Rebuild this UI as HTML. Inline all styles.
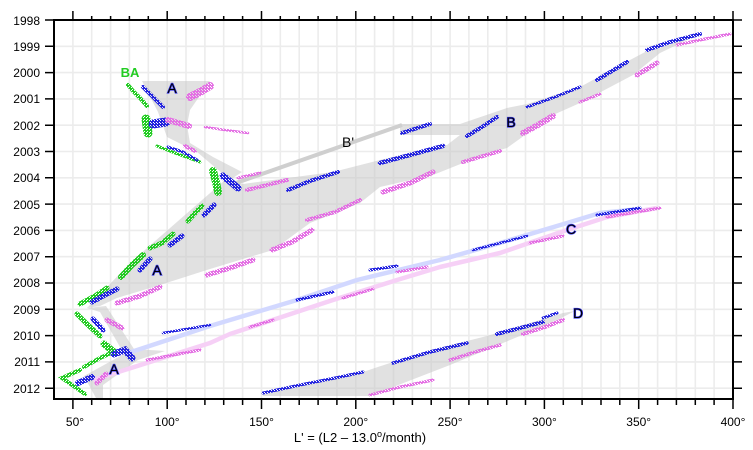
<!DOCTYPE html>
<html><head><meta charset="utf-8"><style>
html,body{margin:0;padding:0;background:#fff;}
svg{display:block;font-family:"Liberation Sans",sans-serif;}
</style></head><body>
<svg width="753" height="450" viewBox="0 0 753 450" xmlns="http://www.w3.org/2000/svg">
<defs>
<pattern id="pb" width="3" height="3" patternUnits="userSpaceOnUse"><g fill="#2424e0"><rect x="0" y="0" width="1" height="1"/><rect x="2" y="0" width="1" height="1"/><rect x="0" y="1" width="3" height="1"/><rect x="1" y="2" width="2" height="1"/></g></pattern>
<pattern id="pp" width="3" height="3" patternUnits="userSpaceOnUse"><g fill="#e470e4"><rect x="0" y="0" width="1" height="1"/><rect x="2" y="0" width="1" height="1"/><rect x="0" y="1" width="3" height="1"/><rect x="1" y="2" width="2" height="1"/></g></pattern>
<pattern id="pg" width="3" height="3" patternUnits="userSpaceOnUse"><g fill="#22cc22"><rect x="0" y="0" width="2" height="1"/><rect x="0" y="1" width="3" height="1"/><rect x="1" y="2" width="2" height="1"/></g></pattern>
</defs>
<rect width="753" height="450" fill="#fff"/>
<!-- grid -->
<g stroke="#ececec" stroke-width="1.6" fill="none">
<path d="M72.9,20V399M91.7,20V399M110.6,20V399M129.4,20V399M148.3,20V399M167.2,20V399M186,20V399M204.9,20V399M223.7,20V399M242.6,20V399M261.5,20V399M280.3,20V399M299.2,20V399M318.1,20V399M336.9,20V399M355.8,20V399M374.6,20V399M393.5,20V399M412.4,20V399M431.2,20V399M450.1,20V399M468.9,20V399M487.8,20V399M506.7,20V399M525.5,20V399M544.4,20V399M563.3,20V399M582.1,20V399M601,20V399M619.8,20V399M638.7,20V399M657.6,20V399M676.4,20V399M695.3,20V399M714.1,20V399"/>
<path d="M54,46.3H733M54,72.6H733M54,98.9H733M54,125.2H733M54,151.5H733M54,177.8H733M54,204.1H733M54,230.4H733M54,256.7H733M54,283H733M54,309.3H733M54,335.6H733M54,361.9H733M54,388.2H733"/>
</g>
<!-- grey bands -->
<g fill="#c4c4c4" fill-opacity="0.5" stroke="none">
<polygon points="142,81 210,81 190,110 187,125 190,143 213,157 242,172 230,180 197,152 167,137 158,112"/>
<polygon points="225,180 243,184 333,172 380,160 447,145 460,135 400,135 400,124 460,124 507,108 527,104 580,87 630,60 647,51 660,48 700,34 687,40 660,53 633,75 580,103 553,115 507,148 500,150 463,163 433,175 380,187 360,203 310,223 273,250 210,269 160,285 117,298 100,306 87,308 130,263"/>
<polygon points="87,308 106,306 134,349 165,351 138,360 103,385 103,398 96,398 84,376 124,354 100,312"/>
<polygon points="263,394 297,387 363,372 393,362 463,342 487,336 563,313 575,311 557,320 527,333 450,365 370,396 263,396"/>
</g>
<!-- B' line -->
<path d="M236,183 L402,125" stroke="#cfcfcf" stroke-width="4" fill="none"/>
<!-- C lines -->
<path d="M125,354 L210,326 L230,320 L297,300 L357,280 L440,260 L500,243 L567,223 L600,213 L640,209" stroke="#d2d8ff" stroke-width="4.5" fill="none" stroke-linejoin="round"/>
<path d="M93,380 L210,343 L230,334 L333,300 L397,280 L440,267 L500,253 L567,230 L607,217 L657,208" stroke="#f6d0f6" stroke-width="4.5" fill="none" stroke-linejoin="round"/>

<!-- green clusters -->
<g stroke="url(#pg)" fill="none" stroke-linecap="round">
<path d="M128,85 L134,92 L140,98 L147,106" stroke-width="4"/>
<path d="M146,119 L148,133" stroke-width="9"/>
<path d="M157,146 L175,153 L200,162" stroke-width="3"/>
<path d="M213,171 L216,182 L218,192" stroke-width="8"/>
<path d="M188,221 L196,212 L202,206" stroke-width="5"/>
<path d="M150,248 L162,243 L173,234" stroke-width="5"/>
<path d="M121,277 L132,265 L143,255" stroke-width="6"/>
<path d="M80,304 L95,296 L107,288" stroke-width="5"/>
<path d="M77,314 L88,325 L100,336" stroke-width="5"/>
<path d="M84,367 L100,358 L113,352" stroke-width="4"/>
<path d="M104,344 L114,352" stroke-width="7"/>
<path d="M80,370 L62,378 L85,394" stroke-width="4"/>
</g>
<!-- blue clusters -->
<g stroke="url(#pb)" fill="none" stroke-linecap="round">
<path d="M143,87 L152,96 L163,107" stroke-width="4"/>
<path d="M153,124 L166,122" stroke-width="9"/>
<path d="M168,147 L183,152 L197,160" stroke-width="3"/>
<path d="M223,176 L232,183 L238,188" stroke-width="7"/>
<path d="M204,215 L214,205" stroke-width="5"/>
<path d="M170,245 L182,236" stroke-width="5"/>
<path d="M140,270 L150,259" stroke-width="5"/>
<path d="M92,302 L105,295 L117,289" stroke-width="5"/>
<path d="M93,319 L103,330" stroke-width="5"/>
<path d="M114,354 L125,350 L132,358" stroke-width="7"/>
<path d="M78,383 L92,377" stroke-width="6"/>
<path d="M288,190 L310,181 L338,172" stroke-width="4"/>
<path d="M380,163 L410,155 L443,146" stroke-width="4.5"/>
<path d="M402,133 L430,124" stroke-width="4"/>
<path d="M467,136 L482,127 L497,117" stroke-width="4"/>
<path d="M527,107 L555,97 L580,87" stroke-width="3"/>
<path d="M597,80 L612,71 L627,62" stroke-width="4"/>
<path d="M647,50 L670,42 L700,34" stroke-width="4"/>
<path d="M163,333 L210,325" stroke-width="2.5"/>
<path d="M297,300 L333,292" stroke-width="3"/>
<path d="M370,270 L397,266" stroke-width="3"/>
<path d="M473,250 L527,236" stroke-width="2.5"/>
<path d="M597,215 L640,208" stroke-width="3"/>
<path d="M263,393 L300,385 L340,377 L363,372" stroke-width="3"/>
<path d="M393,363 L430,352 L467,343" stroke-width="3.5"/>
<path d="M497,334 L520,328 L543,322" stroke-width="4"/>
<path d="M543,318 L557,313" stroke-width="3"/>
</g>
<!-- pink clusters -->
<g stroke="url(#pp)" fill="none" stroke-linecap="round">
<path d="M190,97 L200,92 L210,86" stroke-width="8"/>
<path d="M168,120 L189,126" stroke-width="6"/>
<path d="M205,127 L225,130 L248,133" stroke-width="2.5"/>
<path d="M185,146 L195,151" stroke-width="4"/>
<path d="M238,178 L260,173" stroke-width="3"/>
<path d="M247,190 L287,180" stroke-width="4"/>
<path d="M307,220 L335,212 L360,200" stroke-width="4"/>
<path d="M383,192 L410,183 L433,172" stroke-width="5"/>
<path d="M463,162 L500,151" stroke-width="4"/>
<path d="M272,250 L292,242 L312,230" stroke-width="5"/>
<path d="M207,275 L230,268 L253,260" stroke-width="5"/>
<path d="M117,303 L140,296 L160,287" stroke-width="5"/>
<path d="M107,320 L122,328" stroke-width="5"/>
<path d="M97,383 L106,374" stroke-width="5"/>
<path d="M523,133 L538,125 L553,116" stroke-width="6"/>
<path d="M580,102 L600,94" stroke-width="3"/>
<path d="M637,75 L657,63" stroke-width="5"/>
<path d="M677,45 L700,40 L730,34" stroke-width="3"/>
<path d="M147,360 L200,350" stroke-width="3"/>
<path d="M250,327 L273,320" stroke-width="3"/>
<path d="M343,298 L373,289" stroke-width="3"/>
<path d="M397,272 L427,267" stroke-width="3"/>
<path d="M530,243 L563,236" stroke-width="3"/>
<path d="M607,217 L660,208" stroke-width="3"/>
<path d="M370,395 L400,387 L433,380" stroke-width="3"/>
<path d="M450,360 L475,352 L500,345" stroke-width="3.5"/>
<path d="M523,334 L545,327 L563,320" stroke-width="4"/>
</g>

<!-- labels -->
<g font-size="14" stroke="#3a3af0" stroke-width="1.2" paint-order="stroke" fill="#000">
<text x="172" y="93" text-anchor="middle">A</text>
<text x="157" y="275" text-anchor="middle">A</text>
<text x="114" y="374" text-anchor="middle">A</text>
<text x="511" y="127" text-anchor="middle">B</text>
<text x="571" y="234" text-anchor="middle">C</text>
<text x="578" y="318" text-anchor="middle">D</text>
</g>
<text x="348" y="147" text-anchor="middle" font-size="14" fill="#000">B'</text>
<text x="130" y="77" text-anchor="middle" font-size="13" font-weight="bold" fill="#22cc22">BA</text>

<!-- axes frame -->
<rect x="54" y="20" width="679" height="379" fill="none" stroke="#000" stroke-width="2"/>
<g stroke="#000" stroke-width="1.5" fill="none">
<path d="M72.9,399V409M167.2,399V409M261.5,399V409M355.8,399V409M450.1,399V409M544.4,399V409M638.7,399V409M733,399V409"/>
<path d="M91.7,399V405M110.6,399V405M129.4,399V405M148.3,399V405M186,399V405M204.9,399V405M223.7,399V405M242.6,399V405M280.3,399V405M299.2,399V405M318.1,399V405M336.9,399V405M374.6,399V405M393.5,399V405M412.4,399V405M431.2,399V405M468.9,399V405M487.8,399V405M506.7,399V405M525.5,399V405M563.3,399V405M582.1,399V405M601,399V405M619.8,399V405M657.6,399V405M676.4,399V405M695.3,399V405M714.1,399V405"/>
<path d="M72.9,20V11M167.2,20V11M261.5,20V11M355.8,20V11M450.1,20V11M544.4,20V11M638.7,20V11M733,20V11"/>
<path d="M91.7,20V16M110.6,20V16M129.4,20V16M148.3,20V16M186,20V16M204.9,20V16M223.7,20V16M242.6,20V16M280.3,20V16M299.2,20V16M318.1,20V16M336.9,20V16M374.6,20V16M393.5,20V16M412.4,20V16M431.2,20V16M468.9,20V16M487.8,20V16M506.7,20V16M525.5,20V16M563.3,20V16M582.1,20V16M601,20V16M619.8,20V16M657.6,20V16M676.4,20V16M695.3,20V16M714.1,20V16"/>
<path d="M45,20H54M45,46.3H54M45,72.6H54M45,98.9H54M45,125.2H54M45,151.5H54M45,177.8H54M45,204.1H54M45,230.4H54M45,256.7H54M45,283H54M45,309.3H54M45,335.6H54M45,361.9H54M45,388.2H54"/>
<path d="M733,20H742M733,46.3H742M733,72.6H742M733,98.9H742M733,125.2H742M733,151.5H742M733,177.8H742M733,204.1H742M733,230.4H742M733,256.7H742M733,283H742M733,309.3H742M733,335.6H742M733,361.9H742M733,388.2H742"/>
</g>
<!-- y labels -->
<g font-size="12" fill="#000" text-anchor="end">
<text x="40" y="25">1998</text>
<text x="40" y="51">1999</text>
<text x="40" y="77">2000</text>
<text x="40" y="103">2001</text>
<text x="40" y="130">2002</text>
<text x="40" y="156">2003</text>
<text x="40" y="182">2004</text>
<text x="40" y="209">2005</text>
<text x="40" y="235">2006</text>
<text x="40" y="261">2007</text>
<text x="40" y="287">2008</text>
<text x="40" y="314">2009</text>
<text x="40" y="340">2010</text>
<text x="40" y="366">2011</text>
<text x="40" y="393">2012</text>
</g>
<!-- x labels -->
<g font-size="12" fill="#000" text-anchor="middle">
<text x="75" y="426">50°</text>
<text x="167.2" y="426">100°</text>
<text x="261.5" y="426">150°</text>
<text x="355.8" y="426">200°</text>
<text x="450.1" y="426">250°</text>
<text x="544.4" y="426">300°</text>
<text x="638.7" y="426">350°</text>
<text x="733" y="426">400°</text>
</g>
<text x="360" y="442" font-size="13" fill="#000" text-anchor="middle">L' = (L2 – 13.0<tspan font-size="9" dy="-5">o</tspan><tspan dy="5">/month)</tspan></text>
</svg>
</body></html>
